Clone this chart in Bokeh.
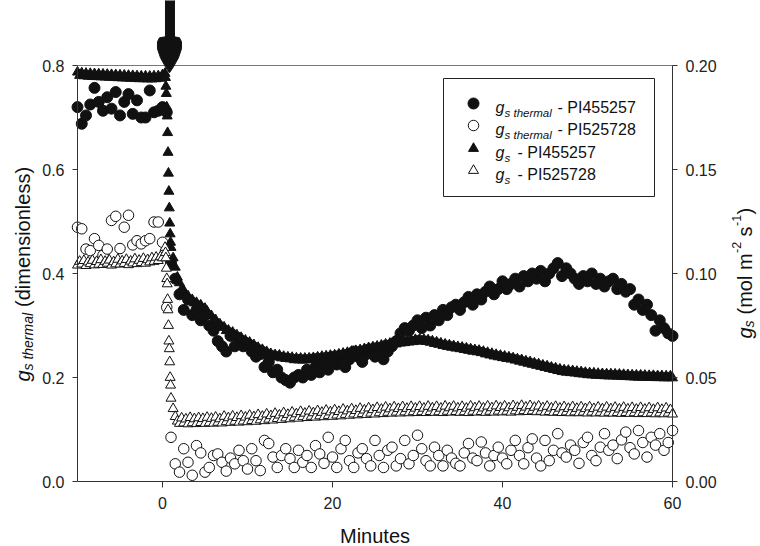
import math
import numpy as np
from bokeh.plotting import figure
from bokeh.models import Range1d, LinearAxis, FixedTicker, PrintfTickFormatter, Label
from bokeh.embed import file_html
from bokeh.resources import INLINE

# ---------------- data ----------------
# gs thermal (dimensionless, left axis), sampled every 0.5 min from -10 min
CIRC_T0, CIRC_DT = -10.0, 0.5
gs_thermal_PI455257 = [
    0.72, 0.688, 0.704, 0.725, 0.757, 0.73, 0.713, 0.739, 0.717, 0.749,
    0.704, 0.73, 0.745, 0.707, 0.733, 0.70, 0.70, 0.752, 0.71, 0.713,
    0.72, 0.71, 0.42, 0.39, 0.36, 0.33, 0.35, 0.32, 0.33, 0.31,
    0.32, 0.30, 0.29, 0.27, 0.26, 0.25, 0.28, 0.26, 0.27, 0.26,
    0.265, 0.25, 0.24, 0.245, 0.22, 0.23, 0.21, 0.215, 0.20, 0.195,
    0.19, 0.20, 0.205, 0.20, 0.215, 0.205, 0.22, 0.21, 0.225, 0.215,
    0.23, 0.225, 0.24, 0.22, 0.235, 0.25, 0.24, 0.23, 0.245, 0.25,
    0.24, 0.245, 0.235, 0.25, 0.26, 0.27, 0.285, 0.295, 0.29, 0.30,
    0.31, 0.295, 0.315, 0.30, 0.32, 0.31, 0.33, 0.32, 0.335, 0.34,
    0.33, 0.345, 0.355, 0.34, 0.36, 0.35, 0.365, 0.375, 0.36, 0.37,
    0.385, 0.37, 0.38, 0.39, 0.375, 0.395, 0.385, 0.40, 0.39, 0.405,
    0.385, 0.40, 0.41, 0.42, 0.395, 0.41, 0.40, 0.39, 0.38, 0.395,
    0.385, 0.40, 0.38, 0.39, 0.375, 0.385, 0.39, 0.37, 0.38, 0.365,
    0.37, 0.34, 0.35, 0.33, 0.34, 0.32, 0.29, 0.31, 0.295, 0.285,
    0.28,
]
gs_thermal_PI525728 = [
    0.489, 0.486, 0.447, 0.444, 0.467, 0.454, 0.435, 0.447, 0.502, 0.51,
    0.448, 0.489, 0.512, 0.455, 0.463, 0.457, 0.463, 0.467, 0.499, 0.499,
    0.46, 0.335, 0.085, 0.034, 0.018, 0.063, 0.037, 0.012, 0.069, 0.055,
    0.018, 0.027, 0.05, 0.053, 0.037, 0.02, 0.045, 0.034, 0.06, 0.04,
    0.024, 0.063, 0.04, 0.021, 0.079, 0.073, 0.047, 0.027, 0.05, 0.063,
    0.044, 0.027, 0.06, 0.037, 0.05, 0.027, 0.069, 0.053, 0.035, 0.085,
    0.047, 0.027, 0.063, 0.079, 0.04, 0.027, 0.055, 0.063, 0.044, 0.03,
    0.079, 0.05, 0.027, 0.06, 0.066, 0.03, 0.044, 0.079, 0.034, 0.05,
    0.089, 0.063, 0.04, 0.03, 0.066, 0.05, 0.03, 0.06, 0.045, 0.035,
    0.03, 0.055, 0.073, 0.045, 0.04, 0.076, 0.055, 0.03, 0.05, 0.066,
    0.045, 0.034, 0.06, 0.079, 0.05, 0.034, 0.065, 0.082, 0.045, 0.03,
    0.079, 0.04, 0.06, 0.092, 0.055, 0.047, 0.07, 0.06, 0.035, 0.075,
    0.085, 0.05, 0.04, 0.066, 0.092, 0.06, 0.07, 0.044, 0.08, 0.095,
    0.065, 0.053, 0.098, 0.075, 0.047, 0.085, 0.07, 0.092, 0.06, 0.075,
    0.098,
]

# gs (mol m-2 s-1, right axis): three logging segments
TRI_PRE_T0, TRI_PRE_DT = -10.0, 0.25      # before the light change
TRI_DROP_T0, TRI_DROP_DT = 0.30, 0.05     # fast logging during the drop
TRI_POST_T0, TRI_POST_DT = 1.25, 0.25     # after the drop

gs_PI455257_pre = [
    0.1968, 0.1952, 0.1964, 0.1950, 0.1962, 0.1948, 0.1961, 0.1947, 0.1960, 0.1946,
    0.1959, 0.1945, 0.1958, 0.1944, 0.1957, 0.1943, 0.1956, 0.1942, 0.1955, 0.1941,
    0.1954, 0.1940, 0.1953, 0.1939, 0.1952, 0.1938, 0.1951, 0.1937, 0.1950, 0.1936,
    0.1949, 0.1936, 0.1949, 0.1935, 0.1948, 0.1935, 0.1949, 0.1936, 0.1950, 0.1938,
    0.1955,
]
gs_PI455257_drop = [
    0.1962, 0.1942, 0.1900, 0.1865, 0.1800, 0.1757, 0.1677, 0.1582, 0.1482, 0.1395,
    0.1315, 0.1242, 0.1190, 0.1150, 0.1125,
]
gs_PI455257_post = [
    .1075, .1030, .0982, .0955, .0925, .0918, .0896, .0892, .0872, .0874, .0858, .0860,
    .0845, .0848, .0830, .0832, .0818, .0800, .0797, .0778, .0777, .0758, .0757, .0741,
    .0742, .0725, .0727, .0713, .0717, .0703, .0704, .0691, .0692, .0675, .0679, .0666,
    .0669, .0655, .0657, .0643, .0644, .0630, .0634, .0621, .0624, .0611, .0614, .0603,
    .0609, .0598, .0607, .0594, .0601, .0591, .0598, .0589, .0596, .0585, .0593, .0584,
    .0592, .0583, .0592, .0584, .0593, .0586, .0595, .0588, .0598, .0590, .0601, .0593,
    .0603, .0595, .0606, .0598, .0608, .0601, .0612, .0605, .0616, .0609, .0620, .0615,
    .0625, .0617, .0629, .0623, .0633, .0626, .0638, .0633, .0643, .0635, .0647, .0640,
    .0650, .0643, .0655, .0650, .0660, .0653, .0664, .0658, .0668, .0661, .0672, .0665,
    .0675, .0667, .0678, .0670, .0680, .0672, .0682, .0675, .0684, .0675, .0683, .0673,
    .0680, .0669, .0675, .0663, .0670, .0659, .0665, .0653, .0660, .0649, .0656, .0645,
    .0652, .0641, .0648, .0638, .0645, .0634, .0641, .0630, .0637, .0626, .0633, .0623,
    .0630, .0619, .0625, .0613, .0620, .0608, .0615, .0603, .0610, .0599, .0606, .0595,
    .0602, .0591, .0598, .0588, .0594, .0583, .0589, .0578, .0585, .0573, .0579, .0568,
    .0575, .0563, .0569, .0558, .0565, .0553, .0559, .0548, .0555, .0543, .0549, .0538,
    .0545, .0533, .0540, .0528, .0536, .0525, .0534, .0523, .0532, .0521, .0529, .0518,
    .0527, .0516, .0524, .0513, .0522, .0512, .0521, .0510, .0519, .0509, .0518, .0508,
    .0517, .0507, .0517, .0507, .0516, .0506, .0515, .0505, .0514, .0504, .0513, .0503,
    .0512, .0502, .0511, .0501, .0511, .0501, .0510, .0500, .0509, .0500, .0509, .0499,
    .0508, .0499, .0508, .0498, .0507, .0498, .0507, .0498,
]
gs_PI525728_pre = [
    .1040, .1058, .1045, .1062, .1038, .1055, .1047, .1063, .1041, .1057,
    .1044, .1066, .1043, .1058, .1049, .1064, .1040, .1056, .1046, .1068,
    .1045, .1060, .1048, .1067, .1042, .1059, .1050, .1070, .1047, .1063,
    .1052, .1072, .1049, .1066, .1055, .1075, .1058, .1078, .1062, .1080,
    .1075,
]
gs_PI525728_drop = [
    .1125, .1100, .1075, .1025, .0975, .0950, .0875, .0825, .0750, .0675,
    .0638, .0575, .0500, .0463, .0400,
]
gs_PI525728_post = [
    .0350, .0312, .0290, .0279, .0305, .0281, .0300, .0277, .0307, .0282, .0301, .0278,
    .0306, .0283, .0302, .0279, .0308, .0282, .0303, .0280, .0309, .0284, .0301, .0281,
    .0313, .0287, .0306, .0284, .0314, .0289, .0307, .0285, .0316, .0290, .0309, .0287,
    .0318, .0293, .0311, .0289, .0321, .0296, .0313, .0292, .0324, .0299, .0316, .0295,
    .0327, .0302, .0319, .0298, .0330, .0305, .0322, .0301, .0333, .0308, .0325, .0304,
    .0336, .0311, .0328, .0307, .0338, .0313, .0330, .0309, .0340, .0315, .0332, .0311,
    .0342, .0317, .0334, .0313, .0344, .0319, .0336, .0315, .0347, .0322, .0339, .0318,
    .0349, .0324, .0341, .0320, .0351, .0326, .0343, .0322, .0353, .0328, .0345, .0324,
    .0355, .0330, .0347, .0326, .0357, .0332, .0349, .0328, .0358, .0333, .0350, .0329,
    .0359, .0334, .0351, .0330, .0360, .0335, .0352, .0331, .0360, .0335, .0352, .0331,
    .0361, .0336, .0353, .0332, .0360, .0335, .0352, .0331, .0362, .0337, .0354, .0333,
    .0361, .0336, .0353, .0332, .0360, .0335, .0352, .0331, .0362, .0337, .0354, .0333,
    .0361, .0336, .0353, .0332, .0362, .0337, .0354, .0333, .0363, .0338, .0355, .0334,
    .0362, .0337, .0354, .0333, .0364, .0339, .0356, .0335, .0365, .0340, .0357, .0336,
    .0364, .0339, .0356, .0335, .0362, .0337, .0354, .0333, .0361, .0336, .0353, .0332,
    .0360, .0335, .0352, .0331, .0359, .0334, .0351, .0330, .0359, .0334, .0351, .0330,
    .0358, .0333, .0350, .0329, .0358, .0333, .0350, .0329, .0357, .0332, .0349, .0328,
    .0357, .0332, .0349, .0328, .0356, .0331, .0348, .0327, .0356, .0331, .0348, .0327,
    .0355, .0330, .0347, .0326, .0355, .0330, .0347, .0326, .0354, .0329, .0346, .0325,
    .0354, .0329, .0346, .0325, .0353, .0328, .0345, .0324,
]

x_ticks = [0, 20, 40, 60]
left_ticks = [0.0, 0.2, 0.4, 0.6, 0.8]
right_ticks = [0.0, 0.05, 0.10, 0.15, 0.20]
X_MIN, X_MAX = -10, 60
LEFT_MAX, RIGHT_MAX = 0.8, 0.2
ARROW_T, ARROW_TIP = 0.82, 0.786   # light-change arrow (min, left-axis units)

# ---------------- layout (canvas pixels) ----------------
W, H = 760, 546
AX_L, AX_R, AX_T, AX_B = 77, 672, 65, 481       # axes box in canvas pixels
PX_X = (AX_R - AX_L) / (X_MAX - X_MIN)
PX_Y = (AX_B - AX_T) / LEFT_MAX
RATIO = RIGHT_MAX / LEFT_MAX
FONT = "Liberation Sans"
INK = "#111111"

x0 = X_MIN - AX_L / PX_X
x1 = X_MAX + (W - AX_R) / PX_X
y0 = -(H - AX_B) / PX_Y
y1 = LEFT_MAX + AX_T / PX_Y


def xd(cx):
    return x0 + cx / PX_X


def yd(cy):
    return y1 - cy / PX_Y


def seg(t0, dt, vals):
    return t0 + dt * np.arange(len(vals))


p = figure(width=W, height=H, output_backend="svg", toolbar_location=None,
           x_range=Range1d(x0, x1), y_range=Range1d(y0, y1),
           x_axis_location=None, y_axis_location=None,
           min_border_left=0, min_border_right=0, min_border_top=0, min_border_bottom=0)
p.extra_y_ranges = {"gs": Range1d(y0 * RATIO, y1 * RATIO)}
p.outline_line_color = None
p.grid.visible = False
p.background_fill_color = "white"
p.border_fill_color = "white"


def style_axis(ax, standoff):
    ax.axis_line_color = "#333333"
    ax.major_tick_line_color = "#333333"
    ax.major_tick_out = 5
    ax.major_tick_in = 0
    ax.minor_tick_line_color = None
    ax.major_label_text_font = FONT
    ax.major_label_text_font_size = "16px"
    ax.major_label_text_color = "#222222"
    ax.major_label_standoff = standoff


xa = LinearAxis(ticker=FixedTicker(ticks=x_ticks), bounds=(X_MIN, X_MAX), fixed_location=0)
style_axis(xa, 9)
xa.major_tick_out = 6
p.add_layout(xa, "below")

ya = LinearAxis(ticker=FixedTicker(ticks=left_ticks), bounds=(0, LEFT_MAX), fixed_location=X_MIN,
                formatter=PrintfTickFormatter(format="%.1f"))
style_axis(ya, 8)
p.add_layout(ya, "left")

ra = LinearAxis(y_range_name="gs", ticker=FixedTicker(ticks=right_ticks), bounds=(0, RIGHT_MAX),
                fixed_location=X_MAX, formatter=PrintfTickFormatter(format="%.2f"))
style_axis(ra, 8)
p.add_layout(ra, "right")

# top frame line
p.line([X_MIN, X_MAX], [LEFT_MAX, LEFT_MAX], line_color="#777777", line_width=1)

# ---------------- data marks ----------------
cx = seg(CIRC_T0, CIRC_DT, gs_thermal_PI455257)
p.scatter(cx, gs_thermal_PI455257, marker="circle", size=11, fill_color=INK, line_color=INK)
cx2 = seg(CIRC_T0, CIRC_DT, gs_thermal_PI525728)
p.scatter(cx2, gs_thermal_PI525728, marker="circle", size=10.5, fill_color="white",
          line_color=INK, line_width=1)

tx = np.concatenate([seg(TRI_PRE_T0, TRI_PRE_DT, gs_PI455257_pre),
                     seg(TRI_DROP_T0, TRI_DROP_DT, gs_PI455257_drop),
                     seg(TRI_POST_T0, TRI_POST_DT, gs_PI455257_post)])
ty = gs_PI455257_pre + gs_PI455257_drop + gs_PI455257_post
p.scatter(tx, ty, marker="triangle", size=10, fill_color=INK, line_color=INK,
          y_range_name="gs")
tx2 = np.concatenate([seg(TRI_PRE_T0, TRI_PRE_DT, gs_PI525728_pre),
                      seg(TRI_DROP_T0, TRI_DROP_DT, gs_PI525728_drop),
                      seg(TRI_POST_T0, TRI_POST_DT, gs_PI525728_post)])
ty2 = gs_PI525728_pre + gs_PI525728_drop + gs_PI525728_post
p.scatter(tx2, ty2, marker="triangle", size=10, fill_color="white", line_color=INK,
          line_width=1, y_range_name="gs")

# ---------------- arrow (annotation, offsets in px from the tip) ----------------
arrow_shape_px = [(-4, 80), (5, 80), (5, 36), (10, 35), (12, 31), (12, 24), (9, 15), (4, 6),
                  (0, 0), (-4, 6), (-9, 15), (-12, 24), (-12, 31), (-10, 35), (-4, 36)]
p.patch([ARROW_T + dx / PX_X for dx, dy in arrow_shape_px],
        [ARROW_TIP + dy / PX_Y for dx, dy in arrow_shape_px],
        fill_color=INK, line_color=INK, line_width=1)


def lab(x, y, text, size=16, style="normal", angle=0.0, xo=0, yo=0, align="left"):
    p.add_layout(Label(x=x, y=y, text=text, text_font=FONT, text_font_size=f"{size}px",
                       text_font_style=style, angle=angle, angle_units="rad",
                       x_offset=xo, y_offset=yo, text_align=align,
                       text_baseline="alphabetic", text_color=INK))


# ---------------- legend ----------------
LG_L, LG_R, LG_T, LG_B = 443, 654, 78, 196
p.quad(left=[xd(LG_L)], right=[xd(LG_R)], top=[yd(LG_T)], bottom=[yd(LG_B)],
       fill_color="white", line_color="#222222", line_width=1)
rows = [103, 125, 148, 170]
MK_X, TX_X = 473, 495
p.scatter([xd(MK_X)], [yd(rows[0])], marker="circle", size=11, fill_color=INK, line_color=INK)
p.scatter([xd(MK_X)], [yd(rows[1])], marker="circle", size=10.5, fill_color="white", line_color=INK)
p.scatter([xd(MK_X)], [yd(rows[2])], marker="triangle", size=10, fill_color=INK, line_color=INK)
p.scatter([xd(MK_X)], [yd(rows[3])], marker="triangle", size=10, fill_color="white", line_color=INK)

legend_rows = [("s thermal", "- PI455257", 62), ("s thermal", "- PI525728", 62),
               ("s", "- PI455257", 22), ("s", "- PI525728", 22)]
for ry, (sub, rest, off) in zip(rows, legend_rows):
    lab(xd(TX_X), yd(ry + 4), "g", 16, "italic")
    lab(xd(TX_X), yd(ry + 4), sub, 11.5, "italic", xo=9, yo=-5)
    lab(xd(TX_X), yd(ry + 4), rest, 16, xo=off)

# ---------------- axis titles ----------------
CY = (AX_T + AX_B) / 2
TS, SS, US = 20, 14, 12.5     # title, subscript, superscript sizes
lab((X_MIN + X_MAX) / 2, yd(535), "Minutes", TS, align="center")

ang = math.pi / 2
L_BASE = 22
l_start = CY + 108
lab(xd(L_BASE), yd(l_start), "g", TS, "italic", angle=ang)
lab(xd(L_BASE), yd(l_start), "s thermal", SS, "italic", angle=ang, yo=11, xo=5)
lab(xd(L_BASE), yd(l_start), "(dimensionless)", TS, angle=ang, yo=74.5)

R_BASE = 744
r_start = CY + 65
lab(xd(R_BASE), yd(r_start), "g", TS, "italic", angle=ang)
lab(xd(R_BASE), yd(r_start), "s", SS, "italic", angle=ang, yo=11, xo=4)
lab(xd(R_BASE), yd(r_start), "(mol m", TS, angle=ang, yo=24)
lab(xd(R_BASE), yd(r_start), "-2", US, angle=ang, yo=85.5, xo=-8)
lab(xd(R_BASE), yd(r_start), "s", TS, angle=ang, yo=102)
lab(xd(R_BASE), yd(r_start), "-1", US, angle=ang, yo=112.5, xo=-8)
lab(xd(R_BASE), yd(r_start), ")", TS, angle=ang, yo=124)

open("out.html", "w").write(file_html(p, INLINE))
